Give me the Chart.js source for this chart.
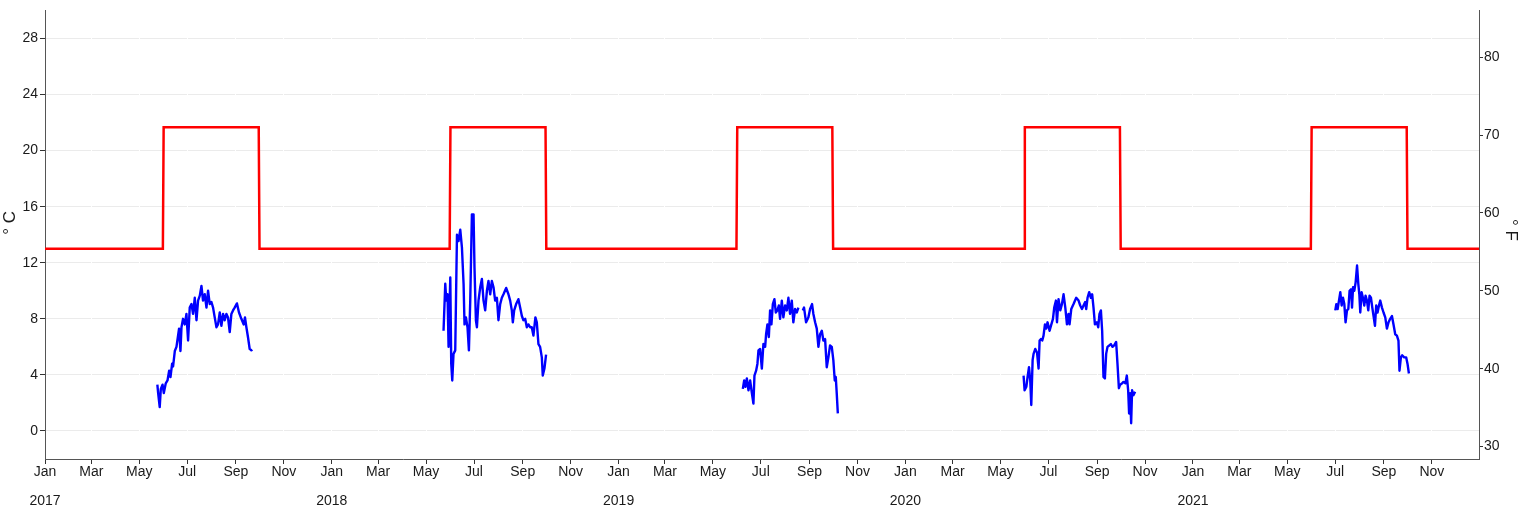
<!DOCTYPE html>
<html>
<head>
<meta charset="utf-8">
<script src="https://cdn.jsdelivr.net/npm/chart.js@4/dist/chart.umd.min.js"></script>
<style>
html,body{margin:0;padding:0;background:#ffffff;}
#wrap{width:1524px;height:521px;}
</style>
</head>
<body>
<div id="wrap"><canvas id="c" width="1524" height="521"></canvas></div>
<script>
// ---------- DATA ----------
const years = [2017, 2018, 2019, 2020, 2021];
const monthNames = ['Jan','Feb','Mar','Apr','May','Jun','Jul','Aug','Sep','Oct','Nov','Dec'];
const tickMonths = [0, 2, 4, 6, 8, 10];
const celsiusTicks = [0, 4, 8, 12, 16, 20, 24, 28];
const fahrenheitTicks = [30, 40, 50, 60, 70, 80];
const xStart = '2017-01-01';
const xEnd = '2021-12-31';

// red threshold (°C), step series
const thresholdDates = ['2017-01-01','2017-05-31','2017-06-01','2017-09-30','2017-10-01',
  '2018-05-31','2018-06-01','2018-09-30','2018-10-01',
  '2019-05-31','2019-06-01','2019-09-30','2019-10-01',
  '2020-05-31','2020-06-01','2020-09-30','2020-10-01',
  '2021-05-31','2021-06-01','2021-09-30','2021-10-01','2021-12-31'];
const thresholdValues = [13,13,21.67,21.67,13,
  13,21.67,21.67,13,
  13,21.67,21.67,13,
  13,21.67,21.67,13,
  13,21.67,21.67,13,13];

// observed water temperature (°C); x = day of year (0 = Jan 1)
const doy2017 = [143,144,146,147.4,149.6,151.2,153.7,155.9,158,159.7,161.8,163,165.2,167.3,170.6,172.4,173.7,175.7,177.9,180,182.1,184.2,186.4,188.4,190.6,192.8,194.8,197,199.1,201.1,203.3,205.5,207.5,209.7,211.8,213.9,216,218.2,220.2,222.4,224.5,226.6,228.7,230.9,232.9,235.1,237.2,239.3,241.4,244.3,246.9,249.9,252.9,254.5,256.3,258.3,260.5,262.6,263.9];
const temp2017 = [3.3,2.7,1.7,3.0,3.3,2.7,3.4,3.6,4.3,3.85,4.8,4.6,5.7,6.0,7.3,5.7,7.4,8.0,7.6,8.35,6.45,8.8,9.05,8.35,9.5,7.9,9.3,9.65,10.35,9.3,9.75,8.8,10.0,9.05,9.2,8.8,8.1,7.4,7.6,8.45,7.5,8.35,7.9,8.35,8.1,7.05,8.35,8.6,8.8,9.1,8.45,8.0,7.6,8.1,7.4,6.7,5.85,5.75,5.8];

const doy2018 = [142.2,144.4,145.7,147.3,148.6,150.8,152,153.3,154.9,157.1,159.3,161.3,163.5,165.6,167.7,168.9,170.7,172.7,174.5,176.2,178.3,180.4,181.6,183.4,184.7,186.7,188.9,191,193.1,195.2,197.4,199.4,201.6,203.7,205.8,207.9,210.1,212.1,214.3,216.4,218.5,221.9,224.8,227,229.1,230.4,232.1,234.6,237.5,239.7,241.9,243.9,246.1,248.2,250.2,252.4,254.5,256.6,259.1,260.9,263,265.1,267.3,268.5,270.6,272.7];
const temp2018 = [7.15,10.5,9.3,9.75,6.0,10.95,4.8,3.6,5.5,5.75,14.0,13.55,14.35,13.1,10.5,7.6,8.1,7.4,5.75,9.3,15.45,15.45,11.65,7.9,7.4,9.3,10.25,10.85,9.3,8.6,10.0,10.7,9.75,10.7,10.25,9.3,9.5,7.9,9.05,9.5,9.75,10.2,9.75,9.3,8.6,7.75,8.6,9.05,9.4,8.8,8.2,7.9,8.0,7.4,7.6,7.4,7.4,6.8,8.1,7.75,6.2,6.0,5.25,3.95,4.45,5.45];

const doy2019 = [158.1,159.8,161.4,163.2,165.3,167.4,169.6,171.6,172.9,175,176.7,178,180.1,182.3,184.3,186.5,187.7,189.4,191.2,192.8,194.5,196.3,198.3,200.1,202.1,203.9,205.5,207.7,209.7,211.9,214.1,216.1,218.2,220.4,222.4,224.6,226.8,228.8,231,234.4,236,238.6,241.5,243.7,246.2,247.9,250.1,252.2,254.3,256.4,258.6,260.6,262.8,264.9,267,269.1,271.3,273.3,275.1,276.4,277.6,279];
const temp2019 = [3.0,3.6,3.15,3.75,2.9,3.6,2.7,1.95,3.95,4.3,4.8,5.75,5.85,4.45,6.2,6.0,6.9,7.6,6.7,8.6,7.6,9.05,9.4,8.45,8.6,8.95,8.0,9.3,8.1,8.95,8.6,9.5,8.35,9.3,7.75,8.7,8.45,8.8,null,8.6,8.8,7.75,8.1,8.7,9.05,8.35,7.75,7.3,6.0,6.9,7.15,6.45,6.55,4.55,5.25,6.1,6.0,5.05,3.6,3.85,2.7,1.25];

const doy2020 = [150.4,151.7,153.9,155.5,157.3,158.9,160.2,161.9,163.1,165.3,167.5,169.5,170.8,172.5,174.2,175.8,177.6,179.3,180.9,183.5,185.2,187.8,189.4,191.6,192.9,194.9,197.1,199.2,201.3,203.5,205.6,207.6,208.9,211.1,214,217.4,220.4,222.5,224.7,226.7,228.8,230.1,231.8,233.9,236.1,237.7,239.4,241.2,243.7,245.4,247,248.8,250.4,252.1,253.9,255.5,257.2,259.4,261.5,263.6,265.7,268.2,269.9,271.7,273.3,275.9,277.5,280,281.8,283.5,284.7,286,287.3,288.5,290.2,292.4];
const temp2020 = [3.95,2.9,3.15,3.85,4.55,3.6,1.85,5.05,5.5,5.85,5.6,4.45,6.45,6.55,6.45,6.8,7.6,7.3,7.75,7.15,7.5,8.0,8.8,9.3,7.75,9.4,8.6,9.05,9.75,8.8,7.6,8.35,7.6,8.7,9.05,9.5,9.3,8.95,8.7,8.95,9.2,8.7,9.5,9.9,9.5,9.75,8.8,7.6,7.75,7.4,8.35,8.6,7.15,3.85,3.75,5.5,6.0,6.1,6.2,6.0,6.1,6.35,4.8,3.05,3.3,3.4,3.5,3.4,3.95,2.9,1.25,2.7,0.55,2.9,2.55,2.8];

const doy2021 = [181.1,182.4,184.1,185.8,187.5,189.2,190.9,192.6,194.2,196,197.7,199.3,201.1,202.4,203.7,205.3,207,208.8,210.4,211.7,212.9,214.6,216.3,218,219.6,221.4,223.1,224.7,226.5,228.2,229.8,231.6,233.2,234.9,236.7,238.3,240.5,242.5,244.7,246.8,248.9,251,253.2,255.2,257.4,259.5,261.5,262.8,264.6,266.2,268.8,271.3,273,274.8];
const temp2021 = [8.6,9.05,8.7,9.3,9.9,8.95,9.5,9.05,7.75,8.6,8.7,10.0,10.1,8.8,10.25,10.0,10.6,11.8,10.5,9.75,8.45,9.9,9.5,8.95,9.65,9.3,8.6,9.65,9.5,8.8,8.2,7.5,8.95,8.45,8.95,9.3,8.8,8.45,8.1,7.3,7.75,8.0,8.2,7.6,6.9,6.8,6.45,4.3,5.25,5.4,5.25,5.25,4.8,4.1];

// ---------- BUILD ----------
const DAY = 86400000;
function toMs(s) { const p = s.split('-').map(Number); return Date.UTC(p[0], p[1] - 1, p[2]); }
function season(year, doys, temps) {
  const base = Date.UTC(year, 0, 1);
  return doys.map((d, i) => ({ x: base + d * DAY, y: temps[i] }));
}
const obsSets = [
  season(2017, doy2017, temp2017),
  season(2018, doy2018, temp2018),
  season(2019, doy2019, temp2019),
  season(2020, doy2020, temp2020),
  season(2021, doy2021, temp2021)
];
const thresholdData = thresholdDates.map((d, i) => ({ x: toMs(d), y: thresholdValues[i] }));

const FONT = "'Liberation Sans Narrow', 'Arial Narrow', 'Liberation Sans', Arial, sans-serif";
const TXT = '#1a1a1a';
const AXIS = '#555555';
const TICK = '#333333';

const datasets = [{
  data: thresholdData, borderColor: '#ff0000', borderWidth: 2.5, pointRadius: 0, fill: false, yAxisID: 'y'
}].concat(obsSets.map(d => ({
  data: d, borderColor: '#0000ff', borderWidth: 2.4, pointRadius: 0, fill: false, spanGaps: false, yAxisID: 'y',
  borderJoinStyle: 'round'
})));

new Chart(document.getElementById('c'), {
  type: 'line',
  data: { datasets },
  options: {
    responsive: false, animation: false, devicePixelRatio: 1,
    layout: { padding: { top: 8, left: 0, right: 0, bottom: 0 } },
    plugins: { legend: { display: false }, tooltip: { enabled: false } },
    elements: { line: { tension: 0 }, point: { radius: 0 } },
    scales: {
      y: {
        type: 'linear', position: 'left', min: -2, max: 30,
        afterBuildTicks: s => { s.ticks = celsiusTicks.map(v => ({ value: v })); },
        afterFit: s => { s.width = 45; },
        grid: { color: '#ebebeb', lineWidth: 1, tickColor: TICK, tickLength: 5, z: -2 },
        border: { color: AXIS, width: 1 },
        ticks: { font: { family: FONT, size: 14 }, color: TXT, padding: 2 },
        title: { display: true, text: '\u00A0\u00A0\u00A0\u00A0\u00A0° C', font: { family: FONT, size: 17 }, color: TXT, padding: { top: 0, bottom: 0 } }
      },
      y2: {
        type: 'linear', position: 'right', min: -2 * 1.8 + 32, max: 30 * 1.8 + 32,
        afterBuildTicks: s => { s.ticks = fahrenheitTicks.map(v => ({ value: v })); },
        afterFit: s => { s.width = 45; },
        grid: { drawOnChartArea: false, tickColor: TICK, tickLength: 4 },
        border: { color: AXIS, width: 1 },
        ticks: { font: { family: FONT, size: 14 }, color: TXT, padding: 1 },
        title: { display: true, text: '° F\u00A0\u00A0', font: { family: FONT, size: 17 }, color: TXT, padding: { top: 3, bottom: 0 } }
      },
      x: {
        type: 'linear', position: 'bottom', min: toMs(xStart), max: toMs(xEnd),
        afterBuildTicks: s => {
          const t = [];
          years.forEach(y => tickMonths.forEach(m => t.push({ value: Date.UTC(y, m, 1) })));
          s.ticks = t;
        },
        afterFit: s => { s.height = 62; },
        grid: {
          color: c => (c.index === 0 ? 'rgba(0,0,0,0)' : '#ffffff'),
          lineWidth: 1, tickColor: TICK, tickLength: 5, z: -1
        },
        border: { color: AXIS, width: 1 },
        ticks: {
          autoSkip: false, maxRotation: 0, minRotation: 0, padding: -7,
          font: { family: FONT, size: 14, lineHeight: 2.1 }, color: TXT,
          callback: v => {
            const d = new Date(v);
            const m = d.getUTCMonth();
            return m === 0 ? [monthNames[m], String(d.getUTCFullYear())] : monthNames[m];
          }
        }
      }
    }
  }
});
</script>
</body>
</html>
